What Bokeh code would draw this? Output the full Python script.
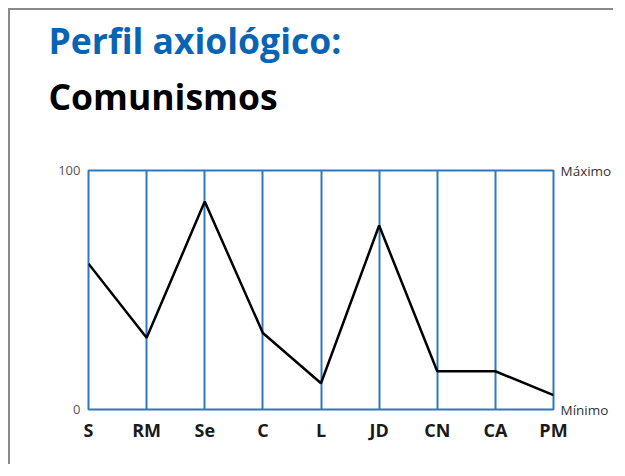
from bokeh.plotting import figure
from bokeh.layouts import column
from bokeh.models import Range1d, FixedTicker, Title, LinearAxis, InlineStyleSheet
from bokeh.embed import file_html
from bokeh.resources import INLINE

categories = ["S", "RM", "Se", "C", "L", "JD", "CN", "CA", "PM"]
values = [61, 30, 87, 32, 11, 77, 16, 16, 6]
title1 = "Perfil axiológico:"
title2 = "Comunismos"

xs = list(range(len(categories)))
BLUE = "#2F78C0"

p = figure(width=605, height=456, output_backend="svg", toolbar_location=None,
           x_range=Range1d(0, len(categories) - 1), y_range=Range1d(0, 100),
           min_border_left=78, min_border_right=62, min_border_top=160, min_border_bottom=57,
           y_axis_location=None)
p.background_fill_color = "white"
p.border_fill_color = "white"
p.outline_line_color = BLUE
p.outline_line_width = 2

p.line(xs, values, line_color="black", line_width=2.5)

# x axis
p.xaxis.ticker = FixedTicker(ticks=xs)
p.xaxis.major_label_overrides = {i: c for i, c in enumerate(categories)}
p.xaxis.axis_line_color = None
p.xaxis.major_tick_line_color = None
p.xaxis.minor_tick_line_color = None
p.xaxis.major_label_text_font = "Open Sans"
p.xaxis.major_label_text_font_style = "bold"
p.xaxis.major_label_text_font_size = "18px"
p.xaxis.major_label_text_color = "#1a1a1a"
p.xaxis.major_label_standoff = 2

p.xgrid.ticker = FixedTicker(ticks=xs)
p.xgrid.grid_line_color = BLUE
p.xgrid.grid_line_width = 2
p.ygrid.grid_line_color = None

la = LinearAxis(ticker=FixedTicker(ticks=[0, 100]))
la.axis_line_color = None
la.major_tick_line_color = None
la.minor_tick_line_color = None
la.major_label_text_font = "Open Sans"
la.major_label_text_font_size = "13px"
la.major_label_text_color = "#555555"
la.major_label_standoff = 2
p.add_layout(la, "left")

ra = LinearAxis(ticker=FixedTicker(ticks=[0, 100]))
ra.major_label_overrides = {0: "Mínimo", 100: "Máximo"}
ra.axis_line_color = None
ra.major_tick_line_color = None
ra.minor_tick_line_color = None
ra.major_label_text_font = "Open Sans"
ra.major_label_text_font_size = "13.5px"
ra.major_label_text_color = "#333333"
ra.major_label_standoff = 1
p.add_layout(ra, "right")

spacer = Title(text=" ", standoff=36, text_font_size="10px", text_color="white")
t2 = Title(text=title2, align="left", offset=-40, standoff=4,
           text_font="Open Sans", text_font_style="bold", text_font_size="35.5px",
           text_color="black")
t1 = Title(text=title1, align="left", offset=-40, standoff=7,
           text_font="Open Sans", text_font_style="bold", text_font_size="35.5px",
           text_color="#0A64B4")
p.add_layout(spacer, "above")
p.add_layout(t2, "above")
p.add_layout(t1, "above")

layout = column(p, width=605, height=456)
layout.stylesheets = [InlineStyleSheet(css=":host { box-shadow: -2px -2px 0 0 #8a8a8a; "
                                           "margin-top: 10px; margin-left: 10px; }")]

open("out.html", "w").write(file_html(layout, INLINE))
